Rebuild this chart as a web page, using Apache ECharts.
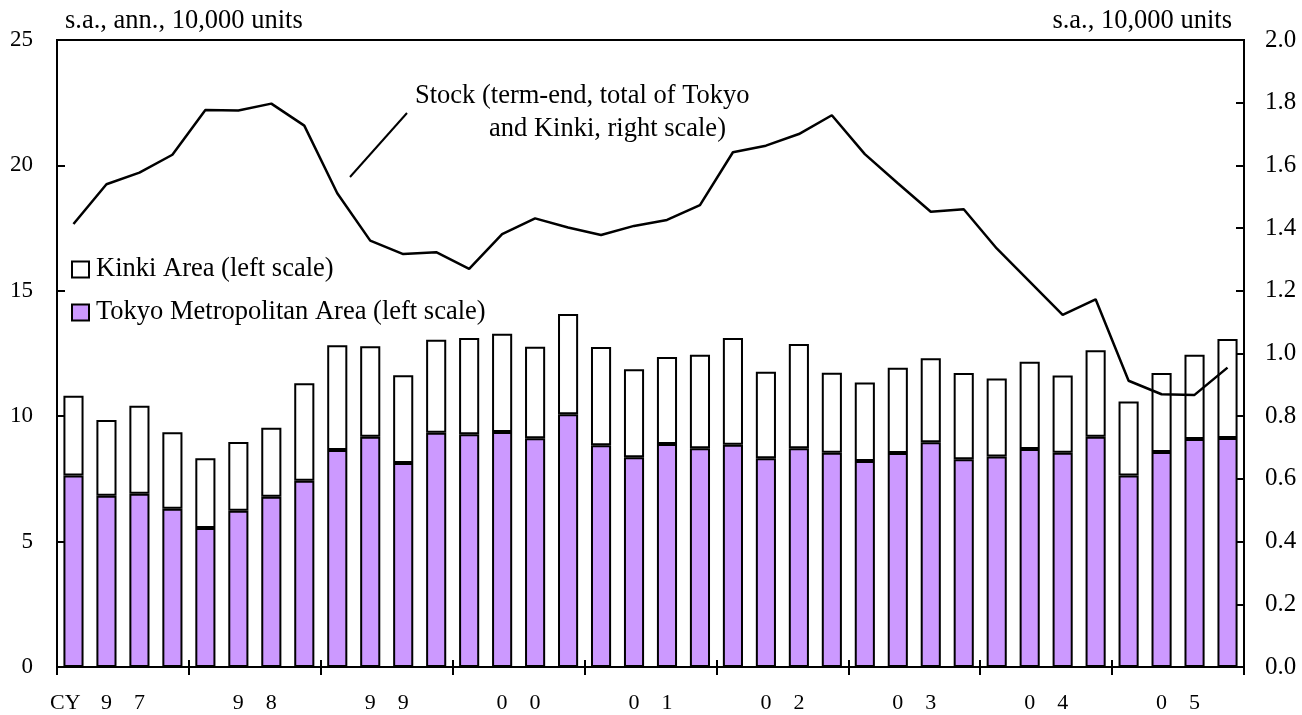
<!DOCTYPE html>
<html>
<head>
<meta charset="utf-8">
<script src="https://cdn.jsdelivr.net/npm/echarts@6/dist/echarts.min.js"></script>
<style>
html,body{margin:0;padding:0;background:#fff;}
#chart{width:1302px;height:715px;}
</style>
</head>
<body>
<div id="chart"></div>
<script>
// Quarterly categories CY1997 Q1 - CY2005 Q4
const quarters = [];
const years = ['97','98','99','00','01','02','03','04','05'];
years.forEach(y => { for (let q = 1; q <= 4; q++) quarters.push(y + 'Q' + q); });
const yearLabels = ['9    7','9    8','9    9','0    0','0    1','0    2','0    3','0    4','0    5'];

// Tokyo Metropolitan Area (left scale, 10,000 units, s.a., ann.)
const tokyo = [7.64,6.83,6.91,6.31, 5.54,6.23,6.79,7.43, 8.65,9.18,8.13,9.34,
               9.28,9.37,9.12,10.08, 8.84,8.36,8.89,8.72, 8.86,8.32,8.72,8.54,
               8.21,8.53,8.96,8.28, 8.39,8.69,8.54,9.18, 7.64,8.57,9.09,9.13];
// Kinki Area (left scale)
const kinki = [3.18,3.02,3.51,3.05, 2.78,2.74,2.75,3.88, 4.18,3.61,3.50,3.71,
               3.84,3.92,3.65,3.99, 3.92,3.51,3.47,3.73, 4.26,3.45,4.16,3.19,
               3.13,3.40,3.35,3.44, 3.11,3.48,3.08,3.45, 2.95,3.15,3.36,3.95];
// Stock (term-end, total of Tokyo and Kinki, right scale)
const stock = [1.413,1.540,1.577,1.634, 1.777,1.775,1.797,1.727, 1.511,1.360,1.317,1.323,
               1.270,1.381,1.431,1.402, 1.378,1.407,1.426,1.473, 1.642,1.663,1.700,1.760,
               1.636,1.543,1.452,1.460, 1.335,1.229,1.123,1.173, 0.913,0.870,0.868,0.955];

const FONT = '"Liberation Serif", "Times New Roman", serif';
const chart = echarts.init(document.getElementById('chart'), null, {renderer: 'canvas'});

chart.setOption({
  animation: false,
  backgroundColor: '#fff',
  textStyle: {fontFamily: FONT, color: '#000'},
  grid: {left: 57, right: 58, top: 40, bottom: 48, show: true, borderColor: '#000', borderWidth: 2, backgroundColor: 'transparent'},
  legend: {
    orient: 'vertical', left: 66, top: 251, itemWidth: 17, itemHeight: 16, itemGap: 16,
    icon: 'rect',
    data: ['Kinki Area (left scale)', 'Tokyo Metropolitan Area (left scale)'],
    textStyle: {fontFamily: FONT, fontSize: 26.5, color: '#000', padding: [0, 0, 0, 2]},
    selectedMode: false
  },
  xAxis: [
    {
      type: 'category', data: quarters, boundaryGap: true, position: 'bottom',
      axisLine: {show: true, lineStyle: {color: '#000', width: 2}},
      axisTick: {show: true, interval: 3, length: 8, inside: false, lineStyle: {color: '#000', width: 2}},
      axisLabel: {show: false}, splitLine: {show: false}
    },
    {
      type: 'category', data: yearLabels, boundaryGap: true, position: 'bottom',
      axisLine: {show: false},
      axisTick: {show: true, inside: true, length: 7, lineStyle: {color: '#000', width: 2}},
      axisLabel: {show: true, fontFamily: FONT, fontSize: 22, color: '#000', margin: 25},
      splitLine: {show: false}
    }
  ],
  yAxis: [
    {
      type: 'value', min: 0, max: 25, interval: 5, position: 'left',
      axisLine: {show: true, lineStyle: {color: '#000', width: 2}},
      axisTick: {show: true, inside: true, length: 8, lineStyle: {color: '#000', width: 2}},
      axisLabel: {fontFamily: FONT, fontSize: 23, color: '#000', margin: 24},
      splitLine: {show: false}
    },
    {
      type: 'value', min: 0, max: 2, interval: 0.2, position: 'right',
      axisLine: {show: true, lineStyle: {color: '#000', width: 2}},
      axisTick: {show: true, inside: true, length: 8, lineStyle: {color: '#000', width: 2}},
      axisLabel: {fontFamily: FONT, fontSize: 25, color: '#000', margin: 21, formatter: v => v.toFixed(1)},
      splitLine: {show: false}
    }
  ],
  series: [
    {
      name: 'Tokyo Metropolitan Area (left scale)', type: 'bar', stack: 'total', data: tokyo,
      xAxisIndex: 0, yAxisIndex: 0, barWidth: '61%',
      itemStyle: {color: '#CC99FF', borderColor: '#000', borderWidth: 2}
    },
    {
      name: 'Kinki Area (left scale)', type: 'bar', stack: 'total', data: kinki,
      xAxisIndex: 0, yAxisIndex: 0, barWidth: '61%',
      itemStyle: {color: '#FFFFFF', borderColor: '#000', borderWidth: 2}
    },
    {
      name: 'Stock', type: 'line', data: stock, xAxisIndex: 0, yAxisIndex: 1,
      symbol: 'none', lineStyle: {color: '#000', width: 2.5}, z: 5
    }
  ],
  graphic: [
    {type: 'text', left: 65, top: 8, style: {text: 's.a., ann., 10,000 units', font: '26.5px ' + FONT, fill: '#000'}},
    {type: 'text', right: 70, top: 8, style: {text: 's.a., 10,000 units', font: '26.5px ' + FONT, fill: '#000'}},
    {type: 'text', left: 50, top: 692, style: {text: 'CY', font: '22px ' + FONT, fill: '#000'}},
    {type: 'text', left: 415, top: 83, style: {text: 'Stock (term-end, total of Tokyo', font: '26.5px ' + FONT, fill: '#000'}},
    {type: 'text', left: 489, top: 116, style: {text: 'and Kinki, right scale)', font: '26.5px ' + FONT, fill: '#000'}},
    {type: 'line', shape: {x1: 407, y1: 113, x2: 350, y2: 177}, style: {stroke: '#000', lineWidth: 2}}
  ]
});
</script>
</body>
</html>
